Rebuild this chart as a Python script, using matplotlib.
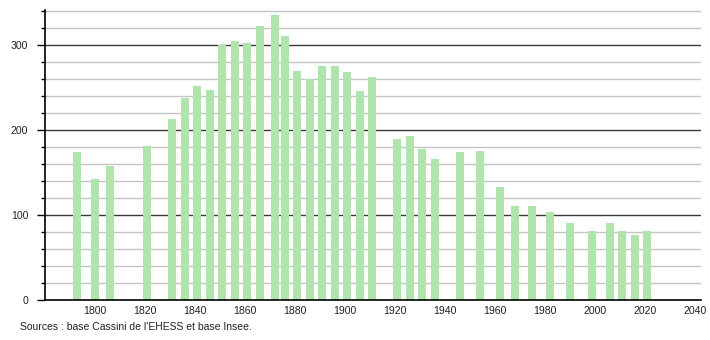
import numpy as np
import matplotlib.pyplot as plt
from matplotlib.ticker import MultipleLocator

# --- Datos: población por año de censo ---------------------------------------------
years = [1793, 1800, 1806, 1821, 1831, 1836, 1841, 1846, 1851, 1856, 1861, 1866,
         1872, 1876, 1881, 1886, 1891, 1896, 1901, 1906, 1911, 1921, 1926, 1931,
         1936, 1946, 1954, 1962, 1968, 1975, 1982, 1990, 1999, 2006, 2011, 2016, 2021]
population = [174, 142, 157, 181, 213, 238, 252, 247, 300, 305, 302, 322,
              335, 311, 269, 260, 275, 275, 268, 246, 262, 189, 193, 178,
              166, 174, 175, 133, 111, 110, 103, 90, 81, 91, 81, 77, 81]
xtick_years = list(range(1800, 2041, 20))
ytick_vals = [0, 100, 200, 300]
source_txt = "Sources : base Cassini de l'EHESS et base Insee."

plt.rcParams['font.family'] = ['Liberation Sans', 'DejaVu Sans']

fig = plt.figure(figsize=(7.1, 3.4), dpi=100)
ax = fig.add_axes([45/710, 1 - 300/340, (701 - 45)/710, 290/340])

# Líneas de grilla: menores grises cada 20, mayores oscuras cada 100
for v in range(20, 341, 20):
    if v % 100 == 0:
        ax.axhline(v, color='#3a3a3a', lw=1.0, zorder=1)
    else:
        ax.axhline(v, color='#c4c4c4', lw=1.0, zorder=1)

ax.bar(years, population, width=3.2, color='#afe4ad', zorder=2)

ax.set_xlim(1780, 2042.5)
ax.set_ylim(0, 341)

ax.set_xticks(xtick_years)
ax.set_xticklabels([str(y) for y in xtick_years], fontsize=7.6, color='#222222')
ax.tick_params(axis='x', length=0, pad=4)

ax.set_yticks(ytick_vals)
ax.set_yticklabels([str(v) for v in ytick_vals], fontsize=7.6, color='#222222')
ax.yaxis.set_minor_locator(MultipleLocator(20))
ax.tick_params(axis='y', which='major', length=6, width=1, color='black', pad=6)
ax.tick_params(axis='y', which='minor', length=3, width=1, color='black')

for s in ['top', 'right']:
    ax.spines[s].set_visible(False)
ax.spines['left'].set_color('black')
ax.spines['bottom'].set_color('black')
ax.spines['left'].set_linewidth(1.2)
ax.spines['bottom'].set_linewidth(1.2)

fig.text(20/710, 1 - 327/340, source_txt, fontsize=7.5, color='#222222', va='center')

fig.savefig('out.png', dpi=100)
